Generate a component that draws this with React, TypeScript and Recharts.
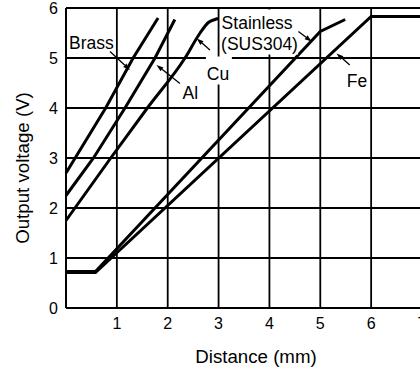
import React from 'react';
import { LineChart, Line, XAxis, YAxis, CartesianGrid, ReferenceLine, ReferenceDot } from 'recharts';

const FONT = '"Liberation Sans", Arial, Helvetica, sans-serif';

// axes
const xTicks = [1, 2, 3, 4, 5, 6, 7];
const yTicks = [0, 1, 2, 3, 4, 5, 6];

// curves (distance mm -> output voltage V)
const brassDist = [0, 0.78, 1.32, 1.81];
const brassVolt = [2.7, 4.0, 5.0, 5.8];
const alDist = [0, 0.54, 1.16, 1.75, 2.14];
const alVolt = [2.25, 3.0, 4.0, 5.0, 5.77];
const cuDist = [0, 0.88, 1.6, 2.34, 2.63, 2.8, 2.93, 2.99];
const cuVolt = [1.75, 3.0, 4.0, 5.0, 5.49, 5.71, 5.77, 5.79];
const susDist = [0, 0.58, 5.0, 5.49];
const susVolt = [0.73, 0.73, 5.53, 5.77];
const feDist = [0, 0.58, 6.0, 7.0];
const feVolt = [0.71, 0.71, 5.83, 5.83];

// callouts
const noteText = ['Brass', 'Al', 'Cu', 'Stainless', '(SUS304)', 'Fe'];
const noteX = [0.06, 2.29, 2.77, 3.06, 3.05, 5.52];
const noteY = [5.19, 4.19, 4.57, 5.59, 5.17, 4.43];
const arrowFromX = [0.865, 2.24, 2.83, 4.57, 5.58];
const arrowFromY = [5.13, 4.49, 5.16, 5.53, 4.86];
const arrowToX = [1.258, 1.78, 2.57, 4.83, 5.32];
const arrowToY = [4.76, 4.86, 5.39, 5.33, 5.09];

const zip = (xs: number[], ys: number[]) => xs.map((x, i) => ({ x, y: ys[i] }));

const series = [
  { name: 'Brass', data: zip(brassDist, brassVolt), type: 'linear' },
  { name: 'Al', data: zip(alDist, alVolt), type: 'linear' },
  { name: 'Cu', data: zip(cuDist, cuVolt), type: 'monotone' },
  { name: 'Stainless', data: zip(susDist, susVolt), type: 'linear' },
  { name: 'Fe', data: zip(feDist, feVolt), type: 'linear' },
];

// white box behind some labels (covers grid lines like the original)
const noteBg: Record<string, [number, number]> = {
  Cu: [26, 23],
  Stainless: [76, 19],
  '(SUS304)': [78, 17],
};

const Note = (props: any) => {
  const { cx, cy, text } = props;
  const bg = noteBg[text];
  return (
    <g>
      {bg && <rect x={cx - 1} y={cy - bg[1]} width={bg[0]} height={bg[1] + 5} fill="#fff" />}
      <text x={cx} y={cy} fontSize={17.5} fontFamily={FONT} fill="#000">
        {text}
      </text>
    </g>
  );
};

const Arrow = (props: any) => {
  const { x1, y1, x2, y2 } = props;
  const a = Math.atan2(y2 - y1, x2 - x1);
  const len = 7;
  const half = 2.4;
  const bx = x2 - len * Math.cos(a);
  const by = y2 - len * Math.sin(a);
  const pts = [
    [x2, y2],
    [bx + half * Math.sin(a), by - half * Math.cos(a)],
    [bx - half * Math.sin(a), by + half * Math.cos(a)],
  ]
    .map((p) => p.join(','))
    .join(' ');
  return (
    <g>
      <line x1={x1} y1={y1} x2={bx} y2={by} stroke="#000" strokeWidth={1.3} />
      <polygon points={pts} fill="#000" />
    </g>
  );
};

export default function App() {
  return (
    <div style={{ position: 'absolute', left: 0, top: 0, width: 420, height: 369, overflow: 'hidden', background: '#fff' }}>
      <LineChart width={430} height={369} margin={{ top: 8, right: 8, left: 0, bottom: 0 }}>
        <CartesianGrid stroke="#000" strokeWidth={1.8} />
        <XAxis
          type="number"
          dataKey="x"
          domain={[0, 7]}
          ticks={xTicks}
          interval={0}
          height={61}
          tickLine={false}
          tickSize={0}
          tickMargin={10}
          axisLine={{ stroke: '#000', strokeWidth: 1.8 }}
          tick={{ fill: '#000', fontSize: 16, fontFamily: FONT }}
          label={{ value: 'Distance (mm)', position: 'insideBottom', offset: 6, dx: 12, style: { fill: '#000', fontSize: 18.7, fontFamily: FONT } }}
        />
        <YAxis
          type="number"
          dataKey="y"
          domain={[0, 6]}
          ticks={yTicks}
          interval={0}
          width={66}
          tickLine={false}
          tickSize={0}
          tickMargin={8}
          axisLine={{ stroke: '#000', strokeWidth: 1.8 }}
          tick={{ fill: '#000', fontSize: 16, fontFamily: FONT }}
          label={{ value: 'Output voltage (V)', angle: -90, position: 'insideLeft', offset: 22, dy: 10, style: { textAnchor: 'middle', fill: '#000', fontSize: 18.7, fontFamily: FONT } }}
        />
        {noteText.map((t, i) => (
          <ReferenceDot key={t} x={noteX[i]} y={noteY[i]} r={0} shape={(p: any) => <Note {...p} text={t} />} />
        ))}
        {arrowFromX.map((_, i) => (
          <ReferenceLine
            key={i}
            segment={[
              { x: arrowFromX[i], y: arrowFromY[i] },
              { x: arrowToX[i], y: arrowToY[i] },
            ]}
            shape={(p: any) => <Arrow {...p} />}
          />
        ))}
        {series.map((s) => (
          <Line
            key={s.name}
            data={s.data}
            dataKey="y"
            type={s.type as any}
            stroke="#000"
            strokeWidth={3}
            dot={false}
            activeDot={false}
            isAnimationActive={false}
          />
        ))}
      </LineChart>
    </div>
  );
}
